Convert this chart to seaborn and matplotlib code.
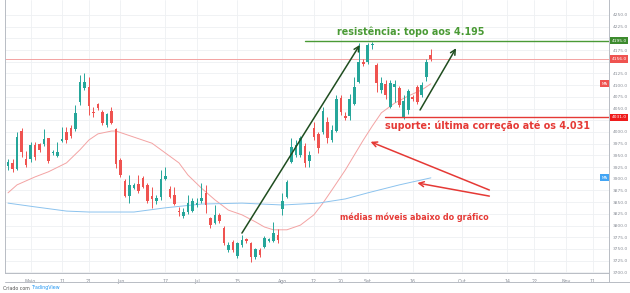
import matplotlib
matplotlib.use("Agg")
import matplotlib.pyplot as plt
import matplotlib.transforms as mtrans
import seaborn as sns
import numpy as np
import pandas as pd

# ---------------- data ----------------
opens = [3927, 3934, 3921, 4002, 3942, 3942, 3972, 3974, 3974, 3987,
         3955, 3949, 3981, 4000, 4009, 4006, 4064, 4094, 4096, 4043,
         4060, 4043, 4015, 4045, 4006, 3940, 3895, 3863, 3880, 3889,
         3902, 3887, 3863, 3853, 3861, 3899, 3878, 3865, 3831, 3821,
         3829, 3831, 3844, 3853, 3870, 3816, 3806, 3823, 3795, 3748,
         3765, 3735, 3759, 3771, 3763, 3733, 3748, 3754, 3767, 3767,
         3780, 3835, 3861, 3936, 3951, 3951, 3970, 3938, 4009, 3996,
         4000, 4021, 3983, 4002, 4073, 4034, 4034, 4060, 4107, 4150,
         4150, 4186, 4143, 4090, 4103, 4053, 4096, 4094, 4032, 4047,
         4075, 4096, 4079, 4118, 4165]
highs = [3942, 3942, 4000, 4009, 3959, 3979, 3979, 3976, 4006, 3987,
         3962, 3979, 4011, 4011, 4015, 4058, 4122, 4126, 4118, 4053,
         4062, 4047, 4041, 4053, 4009, 3944, 3899, 3908, 3891, 3908,
         3906, 3891, 3882, 3865, 3919, 3925, 3884, 3882, 3840, 3838,
         3865, 3859, 3859, 3891, 3887, 3818, 3844, 3827, 3799, 3765,
         3769, 3765, 3780, 3774, 3765, 3752, 3752, 3778, 3774, 3808,
         3793, 3870, 3897, 3987, 3983, 3991, 3976, 3959, 4021, 4000,
         4053, 4032, 4015, 4079, 4079, 4043, 4081, 4118, 4190, 4156,
         4190, 4192, 4148, 4118, 4111, 4111, 4111, 4098, 4079, 4092,
         4079, 4100, 4107, 4156, 4178]
lows = [3919, 3915, 3919, 3947, 3925, 3936, 3940, 3957, 3970, 3934,
        3950, 3947, 3979, 3976, 3987, 4002, 4058, 4090, 4036, 4032,
        4047, 4015, 4011, 4017, 3923, 3904, 3861, 3848, 3878, 3870,
        3880, 3848, 3838, 3846, 3855, 3897, 3859, 3844, 3821, 3816,
        3825, 3829, 3840, 3848, 3827, 3795, 3804, 3806, 3759, 3744,
        3744, 3731, 3754, 3763, 3722, 3729, 3733, 3752, 3765, 3765,
        3763, 3823, 3859, 3934, 3947, 3947, 3925, 3925, 3983, 3955,
        3996, 3976, 3979, 4000, 4036, 4026, 4026, 4058, 4105, 4141,
        4146, 4178, 4085, 4083, 4070, 4051, 4064, 4053, 4028, 4039,
        4066, 4060, 4075, 4109, 4152]
closes = [3936, 3921, 3989, 3957, 3929, 3972, 3947, 3962, 3985, 3938,
          3957, 3957, 3985, 3983, 3991, 4041, 4107, 4107, 4055, 4041,
          4051, 4019, 4039, 4019, 3932, 3908, 3863, 3887, 3887, 3874,
          3882, 3853, 3857, 3859, 3899, 3906, 3861, 3846, 3829, 3829,
          3848, 3853, 3848, 3859, 3844, 3801, 3823, 3810, 3763, 3759,
          3748, 3763, 3769, 3767, 3733, 3750, 3737, 3774, 3771, 3784,
          3769, 3853, 3893, 3968, 3972, 3987, 3934, 3951, 3989, 3966,
          4045, 3987, 4004, 4070, 4043, 4030, 4070, 4096, 4150, 4146,
          4186, 4188, 4105, 4105, 4079, 4105, 4103, 4058, 4066, 4088,
          4070, 4064, 4100, 4150, 4156]

# moving averages (candle index, value)
ma_short_idx = [0, 2, 6, 9, 13, 16, 18, 20, 23, 24, 28, 32, 35, 38, 40, 43, 46,
                49, 52, 55, 57, 59, 62, 65, 68, 70, 72, 75, 77, 79, 81, 83, 86,
                89, 92, 94]
ma_short_val = [3870, 3887, 3904, 3915, 3934, 3962, 3983, 3996, 4002, 4002,
                3989, 3976, 3955, 3934, 3908, 3880, 3855, 3833, 3823, 3808,
                3797, 3791, 3791, 3801, 3823, 3848, 3876, 3919, 3951, 3983,
                4013, 4041, 4062, 4077, 4090, 4103]
ma_long_idx = [0, 6, 13, 18, 28, 35, 43, 52, 61, 69, 75, 80, 87, 94]
ma_long_val = [3848, 3840, 3831, 3829, 3829, 3838, 3846, 3848, 3844, 3848,
               3857, 3870, 3887, 3902]

tick_pos = [5, 12, 18, 25, 35, 42, 51, 61, 68, 74, 80, 90, 101, 111, 117, 124, 130]
tick_labels = ["Maio", "11", "21", "Jun", "17", "Jul", "15", "Ago", "12", "20",
               "Set", "16", "Out", "14", "22", "Nov", "11"]
y_ticks = list(range(3700, 4251, 25))
hidden_y_labels = [4200, 4150, 4025]   # covered by the price tags

resistance = 4195
support = 4031
last_price = 4156

# ---------------- style ----------------
sns.set_style("white")
plt.rcParams['font.family'] = ['DejaVu Sans']

UP = "#26a69a"
DOWN = "#ef5350"
GREEN_TXT = "#4a9a35"
RED_TXT = "#e53935"
AX_GREY = "#8a8f98"

fig = plt.figure(figsize=(6.3, 2.93), dpi=100)
ax = fig.add_axes([5 / 630, 20 / 293, 604 / 630, 273 / 293])

n = len(opens)
df = pd.DataFrame({"i": np.arange(n), "o": opens, "h": highs, "l": lows, "c": closes})
df["up"] = df["c"] >= df["o"]
df["col"] = np.where(df["up"], UP, DOWN)
df["bot"] = df[["o", "c"]].min(axis=1)
df["ht"] = (df["c"] - df["o"]).abs().clip(lower=1.5)

# grid
for t in tick_pos:
    ax.axvline(t, color="#eef0f3", lw=0.6, zorder=0)
for yv in y_ticks:
    ax.axhline(yv, color="#eef0f3", lw=0.6, zorder=0)

# moving averages
sns.lineplot(x=ma_short_idx, y=ma_short_val, ax=ax, color="#f3a3a3", lw=0.7, zorder=2)
sns.lineplot(x=ma_long_idx, y=ma_long_val, ax=ax, color="#8cc3ee", lw=0.7, zorder=2)

# candles
ax.vlines(df["i"], df["l"], df["h"], colors=df["col"], lw=0.7, zorder=3)
ax.bar(df["i"], df["ht"], bottom=df["bot"], width=0.62, color=df["col"], zorder=4, linewidth=0)

# price line
ax.axhline(last_price, color="#f3a3a3", lw=0.7, zorder=2)

# resistance / support lines
ax.plot([66, 134], [resistance, resistance], color=GREEN_TXT, lw=1.0, zorder=5)
ax.plot([83.8, 134], [support, support], color=RED_TXT, lw=1.0, zorder=5)

ax.text(89.5, 4214, "resistência: topo aos 4.195", color=GREEN_TXT, fontsize=6.9,
        fontweight="bold", ha="center", va="center", zorder=6)
ax.text(83.8, 4014, "suporte: última correção até os 4.031", color=RED_TXT, fontsize=6.9,
        fontweight="bold", ha="left", va="center", zorder=6)
ax.text(73.8, 3818, "médias móveis abaixo do gráfico", color=RED_TXT, fontsize=5.8,
        fontweight="bold", ha="left", va="center", zorder=6)

# dark green trend arrows
trend_arrows = [((52, 3784), (78.2, 4186)), ((91.6, 4047), (99.6, 4179))]
for (x0, y0), (x1, y1) in trend_arrows:
    ax.annotate("", xy=(x1, y1), xytext=(x0, y0),
                arrowprops=dict(arrowstyle="->", color="#1f4d1f", lw=1.1,
                                mutation_scale=9, shrinkA=0, shrinkB=0), zorder=6)
# red arrows to the averages
red_arrows = [((107, 3876), (80.6, 3979)), ((107, 3863), (91, 3891))]
for (x0, y0), (x1, y1) in red_arrows:
    ax.annotate("", xy=(x1, y1), xytext=(x0, y0),
                arrowprops=dict(arrowstyle="->", color=RED_TXT, lw=1.1,
                                mutation_scale=9, shrinkA=0, shrinkB=0), zorder=6)

# axes limits
ax.set_xlim(-0.67, 133.6)
ax.set_ylim(3698.7, 4282)

# spines
ax.spines["top"].set_visible(False)
for s in ["left", "bottom", "right"]:
    ax.spines[s].set_color("#b8bcc4")
    ax.spines[s].set_linewidth(0.7)

ax.yaxis.tick_right()
ax.set_yticks(y_ticks)
ax.set_yticklabels(["" if v in hidden_y_labels else f"{v:.1f}" for v in y_ticks],
                   fontsize=3.2, color=AX_GREY)
ax.set_xticks(tick_pos)
ax.set_xticklabels(tick_labels, fontsize=3.4, color=AX_GREY)
ax.tick_params(axis="y", length=0, pad=2.5)
ax.tick_params(axis="x", length=0, pad=4)
ax.set_xlabel("")
ax.set_ylabel("")

# price tags on right axis
trans = mtrans.blended_transform_factory(ax.transAxes, ax.transData)
tags = [(resistance, "#3d8b2e"), (last_price, "#ef5350"), (support, "#ef1c1c")]
for val, colr in tags:
    ax.text(1.004, val, f"{val:.1f}", transform=trans, fontsize=3.2, color="white",
            ha="left", va="center", zorder=10, clip_on=False,
            bbox=dict(boxstyle="square,pad=0.35", fc=colr, ec="none"))
# MA tags
ma_tags = [(ma_short_val[-1], "#ef5350"), (ma_long_val[-1], "#42a5f5")]
for val, colr in ma_tags:
    ax.text(0.997, val, "MA", transform=trans, fontsize=2.8, color="white",
            ha="right", va="center", zorder=10, clip_on=False,
            bbox=dict(boxstyle="square,pad=0.4", fc=colr, ec="none"))

# bottom band frame
fig.add_artist(plt.Line2D([5 / 630, 1], [11 / 293, 11 / 293], color="#b8bcc4", lw=0.7))
fig.add_artist(plt.Line2D([609 / 630, 609 / 630], [11 / 293, 20 / 293], color="#b8bcc4", lw=0.7))

fig.text(3 / 630, 5 / 293, "Criado com", fontsize=3.4, color="#555555", ha="left", va="center")
fig.text(32 / 630, 5 / 293, "TradingView", fontsize=3.4, color="#2196f3", ha="left", va="center")

fig.savefig("out.png", dpi=100)
